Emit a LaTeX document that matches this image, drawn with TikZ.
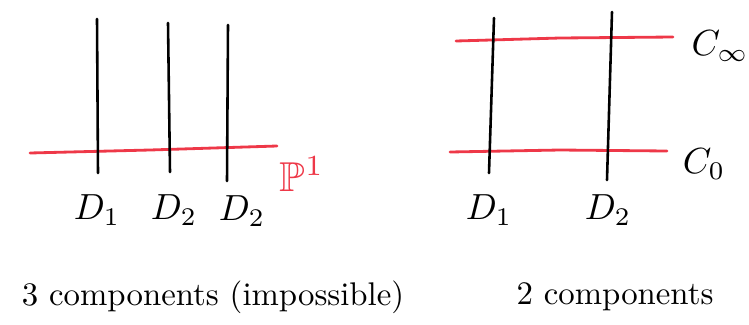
\documentclass[tikz,border=0pt]{standalone}
\usepackage{amsmath,amssymb}
\usepackage{tikz}
\usetikzlibrary{positioning}
\usepackage{xcolor}
\definecolor{fred}{HTML}{EE3848}
\tikzset{
  fibre/.style   = {line width=2.2pt, black, line cap=round},
  sect/.style    = {line width=2.4pt, fred, line cap=round},
  lbl/.style     = {scale=3.1, inner sep=1pt},
  caption/.style = {scale=2.8, inner sep=1pt},
}
\begin{document}
\begin{tikzpicture}[x=0.03cm,y=-0.03cm]
\useasboundingbox (0,0) rectangle (749,324);
% left: one base curve, three fibres
\draw[sect] (30,153) -- (150,150) -- (277,146);
\draw[fibre] (97,19) -- (98,173);
\draw[fibre] (168,23) -- (170,172);
\draw[fibre] (228,25) -- (227,181);
\node[lbl,fred,scale=1.15] (pone) at (302,174) {$\mathbb{P}^1$};
\node[lbl] (d1) at (97,210) {$D_1$};
\node[lbl] (d2) at (174,210) {$D_2$};
\node[lbl] (d3) at (242,211) {$D_2$};
% right: two sections, two fibres
\draw[sect] (456,41) -- (560,38) -- (673,37);
\draw[sect] (450,152) -- (560,150) -- (667,151);
\draw[fibre] (494,18) -- (489,173);
\draw[fibre] (612,12) -- (607,180);
\node[lbl] (cinf) at (720,46) {$C_\infty$};
\node[lbl] (czero) at (704,164) {$C_0$};
\node[lbl] (e1) at (489,210) {$D_1$};
\node[lbl] (e2) at (608,210) {$D_2$};
% captions
\node[caption] (capl) at (213,297) {3 components (impossible)};
\node[caption] (capr) at (615,297) {2 components};
\end{tikzpicture}
\end{document}
